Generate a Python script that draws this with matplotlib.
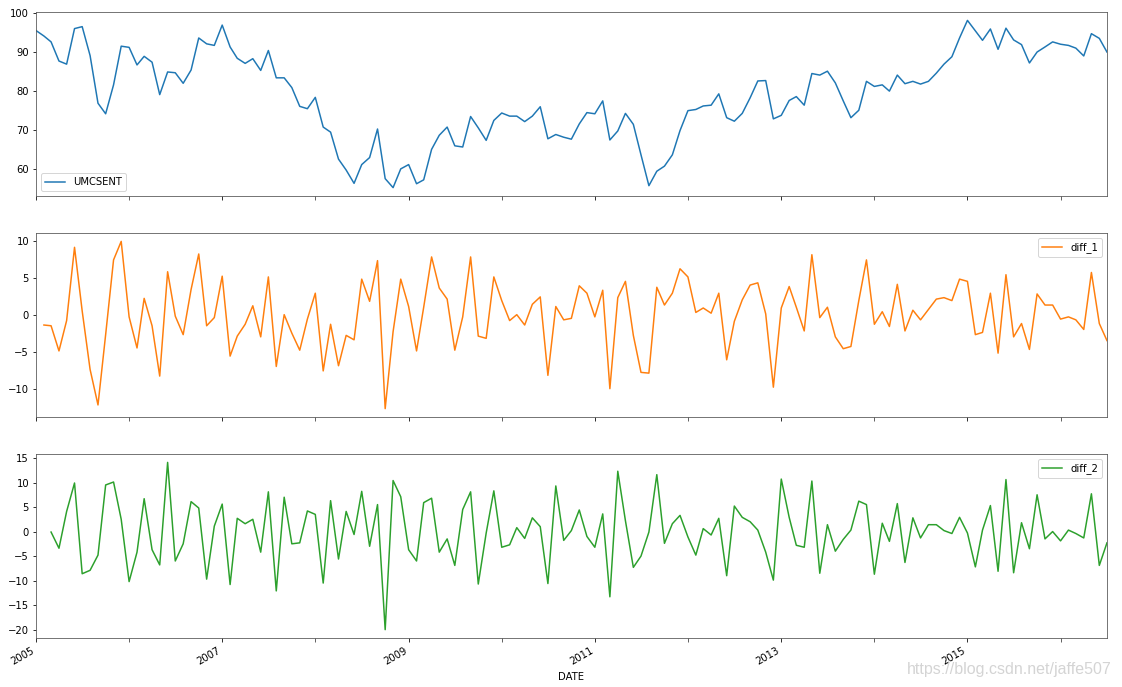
import pandas as pd
import matplotlib
matplotlib.use('Agg')
import matplotlib.pyplot as plt

# monthly UMCSENT, 2005-01 .. 2016-07
umcsent = [
    95.5, 94.1, 92.6, 87.7, 86.9, 96.0, 96.5, 89.1, 76.9, 74.2, 81.6, 91.5,  # 2005
    91.2, 86.7, 88.9, 87.4, 79.1, 84.9, 84.7, 82.0, 85.4, 93.6, 92.1, 91.7,  # 2006
    96.9, 91.3, 88.4, 87.1, 88.3, 85.3, 90.4, 83.4, 83.4, 80.9, 76.1, 75.5,  # 2007
    78.4, 70.8, 69.5, 62.6, 59.8, 56.4, 61.2, 63.0, 70.3, 57.6, 55.3, 60.1,  # 2008
    61.2, 56.3, 57.3, 65.1, 68.7, 70.8, 66.0, 65.7, 73.5, 70.6, 67.4, 72.5,  # 2009
    74.4, 73.6, 73.6, 72.2, 73.6, 76.0, 67.8, 68.9, 68.2, 67.7, 71.6, 74.5,  # 2010
    74.2, 77.5, 67.5, 69.8, 74.3, 71.5, 63.7, 55.8, 59.5, 60.8, 63.7, 69.9,  # 2011
    75.0, 75.3, 76.2, 76.4, 79.3, 73.2, 72.3, 74.3, 78.3, 82.6, 82.7, 72.9,  # 2012
    73.8, 77.6, 78.6, 76.4, 84.5, 84.1, 85.1, 82.1, 77.5, 73.2, 75.1, 82.5,  # 2013
    81.2, 81.6, 80.0, 84.1, 81.9, 82.5, 81.8, 82.5, 84.6, 86.9, 88.8, 93.6,  # 2014
    98.1, 95.4, 93.0, 95.9, 90.7, 96.1, 93.1, 91.9, 87.2, 90.0, 91.3, 92.6,  # 2015
    92.0, 91.7, 91.0, 89.0, 94.7, 93.5, 90.0,                                # 2016
]
dates = pd.date_range('2005-01-01', periods=len(umcsent), freq='MS')

df = pd.DataFrame({'UMCSENT': umcsent}, index=dates)
df.index.name = 'DATE'
df['diff_1'] = df['UMCSENT'].diff(1)
df['diff_2'] = df['diff_1'].diff(1)

major_years = pd.to_datetime(['%d-01-01' % y for y in range(2005, 2017, 2)])
minor_years = pd.to_datetime(['%d-01-01' % y for y in range(2006, 2017, 2)])

fig = plt.figure(figsize=(1122/72, 687/72), dpi=72)
left, width, height = 0.0321, 0.9545, 0.2678
bottoms = [0.7147, 0.3930, 0.0713]
colors = ['#1f77b4', '#ff7f0e', '#2ca02c']
legend_loc = ['lower left', 'upper right', 'upper right']

axes = []
for i, col in enumerate(['UMCSENT', 'diff_1', 'diff_2']):
    ax = fig.add_axes([left, bottoms[i], width, height], sharex=axes[0] if axes else None)
    ax.plot(df.index, df[col], color=colors[i], lw=1.5, label=col)
    ax.legend(loc=legend_loc[i], fontsize=10)
    ax.tick_params(labelsize=10)
    for s in ax.spines.values():
        s.set_color('#555555')
    axes.append(ax)

ax = axes[-1]
ax.set_xlim(dates[0], dates[-1])
ax.set_xticks(major_years)
ax.set_xticks(minor_years, minor=True)
ax.set_xticklabels([str(d.year) for d in major_years], rotation=30, ha='right', fontsize=10)
ax.set_xticklabels([], minor=True)
ax.set_xlabel('DATE', fontsize=10, labelpad=6)
for a in axes[:-1]:
    a.tick_params(axis='x', which='both', labelbottom=False)
for a in axes:
    a.tick_params(axis='x', which='minor', length=3.5)

# blog watermark
fig.text(0.991, 0.026, 'https://blog.csdn.net/jaffe507', ha='right', va='center',
         fontsize=16, family='Liberation Sans', color='#d4d4d4')

fig.savefig('out.png', dpi=72)
